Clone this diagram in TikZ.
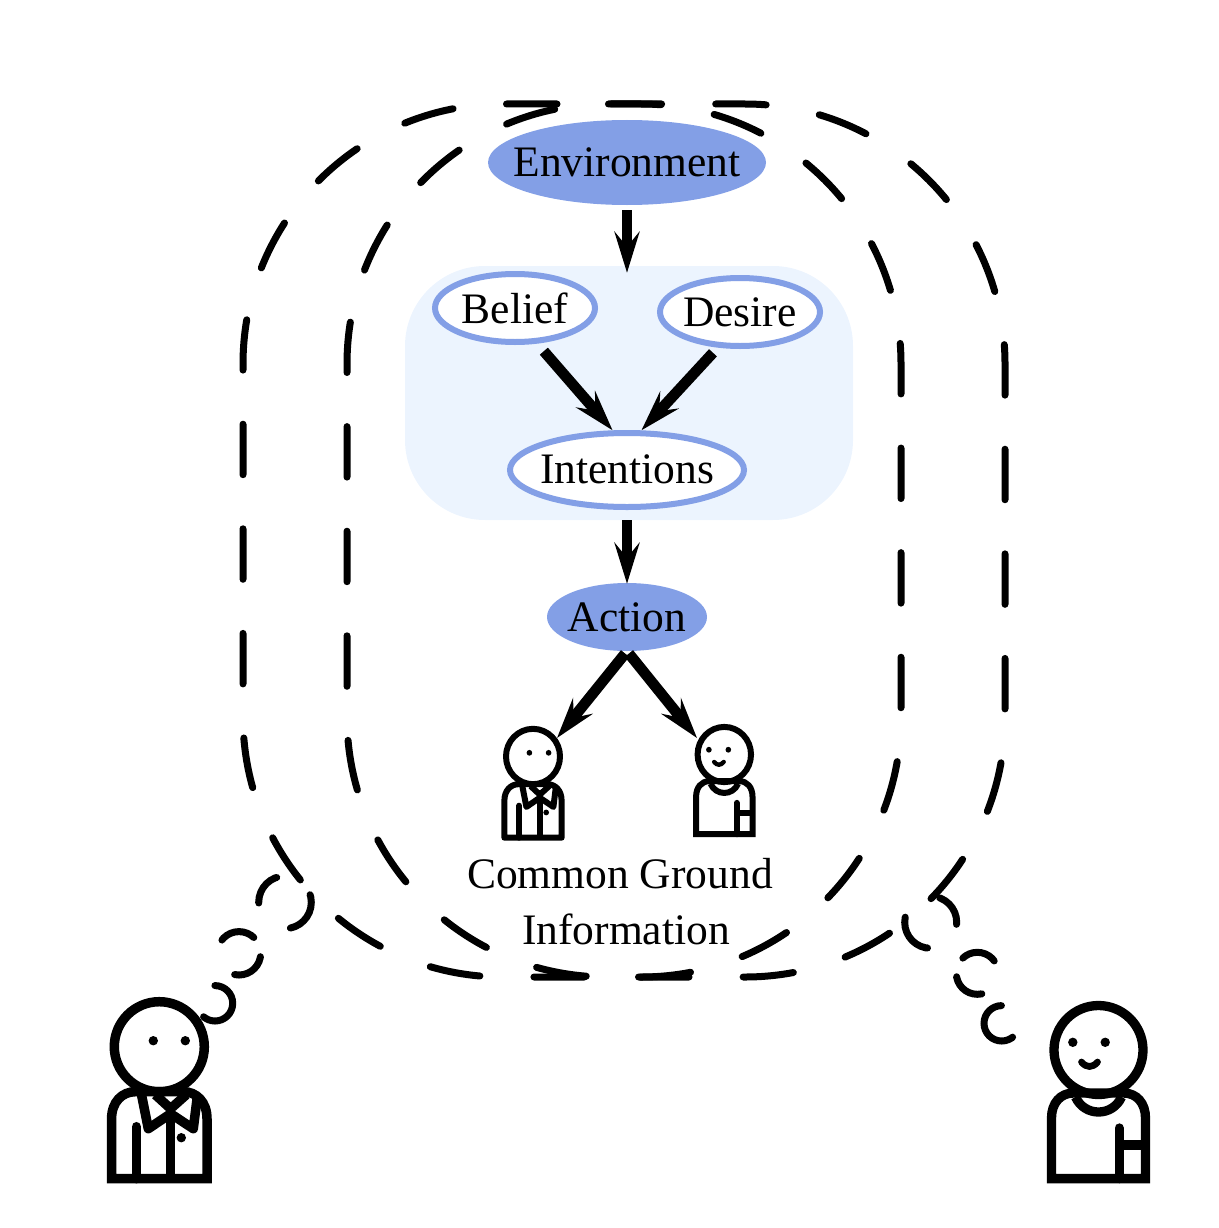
\documentclass[tikz,border=0pt]{standalone}
\usepackage{fontspec}
\setmainfont{Liberation Serif}
\usetikzlibrary{arrows.meta,scopes,shapes.geometric}

\begin{document}
\begin{tikzpicture}[
      x=1pt,y=-1pt,
      txt/.style={font=\fontsize{43.5}{50}\selectfont,inner sep=0pt},
      solidell/.style={ellipse,txt,inner sep=-30pt,fill=bdiblue},
      ringell/.style={ellipse,txt,inner sep=-30pt,draw=bdiblue,fill=white,line width=6pt},
      panel/.style={rectangle,fill=bdipale,rounded corners=80pt,minimum width=448pt,minimum height=254pt},
      flow/.style={line width=10.7pt,-{Stealth[length=41pt,width=25pt,inset=15pt]}},
      frame/.style={line width=7pt,line cap=round,dash pattern=on 50.5pt off 54.1pt,rounded corners=260pt},
      bubble/.style={line width=7pt,line cap=round},
      suitguy/.pic={
          \draw (0,0) circle[radius=45];
          \fill (-6,-6) circle[radius=4.7] (26,-6) circle[radius=4.7] (22,91) circle[radius=4.7];
          \draw (-47.7,132) -- (-47.7,72) .. controls (-47.7,55) and (-37,45) .. (-24,45) -- (24,45)
              .. controls (37,45) and (47.7,55) .. (47.7,72) -- (47.7,132) -- cycle;
          \draw[line cap=round] (-23,80) -- (-23,132);
          \draw (11.3,55) -- (11.3,132);
          \draw[line join=round] (-18,47) -- (-11,82) -- (11.3,67) -- (34,82) -- (38,50);
          \draw (-4,48) -- (11.3,62) -- (27,48);
      },
      smileguy/.pic={
          \draw (0,0) circle[radius=44.5];
          \fill (-25.7,-7.7) circle[radius=4.7] (6.7,-7.7) circle[radius=4.7];
          \draw[line cap=round,line width=0.85\pgflinewidth] (-17,12) .. controls (-12,18) and (-6,18) .. (-1,12);
          \draw (-47,128.6) -- (-47,68) .. controls (-47,53) and (-38,43) .. (-25,43) -- (25,43)
              .. controls (38,43) and (47,53) .. (47,68) -- (47,128.6) -- cycle;
          \draw (-23,47) .. controls (-14,67) and (14,67) .. (23,47);
          \draw[line cap=round] (20.7,78) -- (20.7,128.6);
          \draw (20.7,95) -- (47,95);
      }
]
      \definecolor{bdiblue}{HTML}{839FE6}
      \definecolor{bdipale}{HTML}{ECF4FE}
      \useasboundingbox (0,0) rectangle (1218,1228);

      \node[panel] at (629,393) (bdi) {};
      \node[solidell,minimum width=278pt,minimum height=85pt] at (627,162.5) (env) {Environment};
      \node[ringell,minimum width=160pt,minimum height=68pt] at (515,308) (belief) {\raisebox{-2pt}{Belief}};
      \node[ringell,minimum width=160pt,minimum height=68pt] at (740,312) (desire) {Desire};
      \node[ringell,minimum width=234pt,minimum height=74pt] at (627,470) (intent) {\raisebox{1pt}{Intentions}};
      \node[solidell,minimum width=160pt,minimum height=68pt] at (627,617) (action) {Action};
      \node[txt] at (620,874) (cgone) {Common Ground};
      \node[txt] at (626,929) (cgtwo) {Information};

      \coordinate (suittip) at (557,738);
      \coordinate (smiletip) at (697,738);

      {[flow]
          \draw[shorten <=5pt,shorten >=-7pt] (env.south) -- (bdi.north -| env);
          \draw[shorten <=10pt] (belief.-58) -- (intent.110);
          \draw[shorten <=7pt] (desire.-122) -- (intent.70);
          \draw[shorten <=10pt,shorten >=-1pt] (intent.south) -- (action.north);
          \draw[shorten <=3pt] (action.south) -- (suittip);
          \draw[shorten <=3pt] (action.south) -- (smiletip);
      }

      \draw[frame] (506.5,104) -- (1005,104) -- (1005,977) -- (243,977) -- (243,104) -- (506.5,104);
      \draw[frame] (610.5,104) -- (901,104) -- (901,977) -- (347,977) -- (347,104) -- (610.5,104);

      \draw[bubble,dash pattern=on 43.6pt off 46pt on 33.5pt off 42pt,dash phase=7.8pt] (285,902.3) circle[radius=26.3];
      \draw[bubble,dash pattern=on 35pt off 44pt on 36pt off 21pt,dash phase=132.6pt] (239,953.3) circle[radius=21.7];
      \draw[bubble,dash pattern=on 68pt off 43pt,dash phase=27.8pt] (215,1003.3) circle[radius=17.7];
      \draw[bubble,dash pattern=on 33pt off 42pt on 42.7pt off 45pt,dash phase=31pt] (930.7,922.3) circle[radius=26];
      \draw[bubble,dash pattern=on 35.6pt off 41.8pt on 34pt off 20.5pt,dash phase=49pt] (977.3,973.3) circle[radius=21];
      \draw[bubble,dash pattern=on 67pt off 44pt,dash phase=95pt] (1001.7,1023.3) circle[radius=17.7];

      \pic[line width=9.5pt] at (159.3,1046.7) {suitguy};
      \pic[line width=9.3pt] at (1098.5,1050) {smileguy};
      \pic[xscale=.6,yscale=.615,line width=6pt,line join=round] at (533,756.5) {suitguy};
      \pic[xscale=.6,yscale=.62,line width=6pt] at (724.3,754.5) {smileguy};
\end{tikzpicture}
\end{document}
